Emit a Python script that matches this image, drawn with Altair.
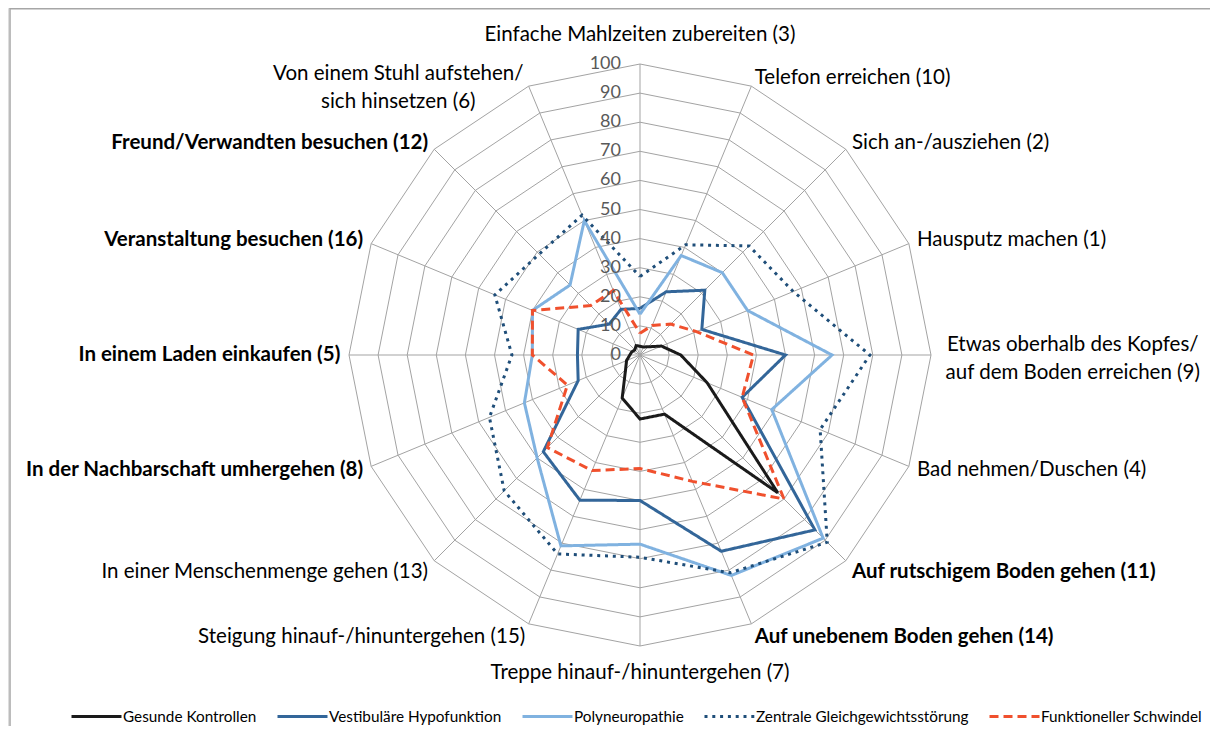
import math
import altair as alt
import pandas as pd

# ---------------- data ----------------
categories = [
    "Einfache Mahlzeiten zubereiten (3)",
    "Telefon erreichen (10)",
    "Sich an-/ausziehen (2)",
    "Hausputz machen (1)",
    "Etwas oberhalb des Kopfes/\nauf dem Boden erreichen (9)",
    "Bad nehmen/Duschen (4)",
    "Auf rutschigem Boden gehen (11)",
    "Auf unebenem Boden gehen (14)",
    "Treppe hinauf-/hinuntergehen (7)",
    "Steigung hinauf-/hinuntergehen (15)",
    "In einer Menschenmenge gehen (13)",
    "In der Nachbarschaft umhergehen (8)",
    "In einem Laden einkaufen (5)",
    "Veranstaltung besuchen (16)",
    "Freund/Verwandten besuchen (12)",
    "Von einem Stuhl aufstehen/\nsich hinsetzen (6)",
]
bold_categories = [
    "Auf rutschigem Boden gehen (11)",
    "Auf unebenem Boden gehen (14)",
    "In der Nachbarschaft umhergehen (8)",
    "In einem Laden einkaufen (5)",
    "Veranstaltung besuchen (16)",
    "Freund/Verwandten besuchen (12)",
]
series_names = [
    "Gesunde Kontrollen",
    "Vestibuläre Hypofunktion",
    "Polyneuropathie",
    "Zentrale Gleichgewichtsstörung",
    "Funktioneller Schwindel",
]
gesunde = [3, 3, 4, 8, 14, 25, 67, 22, 22, 16, 7, 5, 3.5, 3, 2.5, 3.5]
vestibulaer = [16, 23.5, 31.5, 23, 50, 38, 85, 73, 50, 54, 47, 23, 21.5, 23, 15, 17]
polyneuro = [14, 37, 40, 40, 66, 49, 89, 82, 65, 71, 50, 43, 37, 40, 34, 50]
zentral = [27, 41, 53, 57, 79, 67, 91, 81, 69.5, 74, 66, 56, 44, 54, 49, 52]
schwindel = [7.5, 11, 15, 21, 39, 38, 70, 47, 39, 43, 45, 27, 37, 40, 24, 24]
ring_levels = [10, 20, 30, 40, 50, 60, 70, 80, 90, 100]
tick_values = [0, 10, 20, 30, 40, 50, 60, 70, 80, 90, 100]

series_values = [gesunde, vestibulaer, polyneuro, zentral, schwindel]
series_colors = ["#1a1a1a", "#336699", "#80b2e0", "#1f4e79", "#f0502d"]
series_dashes = [[1, 0], [1, 0], [1, 0], [3, 4.8], [9, 5]]

N = len(categories)

rows = []
for k, (name, vals) in enumerate(zip(series_names, series_values)):
    for i in range(N + 1):
        rows.append({"series": name, "sorder": k, "idx": i, "value": vals[i % N]})
df_series = pd.DataFrame(rows)

df_rings = pd.DataFrame(
    [{"ring": r, "idx": i, "value": r} for r in ring_levels for i in range(N + 1)]
)
df_spokes = pd.DataFrame({"idx": list(range(N)), "value": [ring_levels[-1]] * N})
df_ticks = pd.DataFrame({"tick": tick_values, "label": [str(t) for t in tick_values]})
df_labels = pd.DataFrame({"idx": list(range(N)), "label": categories})

# ---------------- geometry / scales ----------------
W, H = 1202, 718
CX, CY = 632, 347          # centre inside the view
PX = 2.91                  # pixels per value unit
xs = alt.Scale(domain=[-CX / PX, (W - CX) / PX], nice=False, zero=False)
ys = alt.Scale(domain=[-(H - CY) / PX, CY / PX], nice=False, zero=False)

FONT = "Lato"
GRID = "#a3a3a3"
LABEL_SIZE = 20.5


def polar(chart):
    return (
        chart.transform_calculate(theta=f"2*PI*datum.idx/{N}")
        .transform_calculate(px="datum.value*sin(datum.theta)")
        .transform_calculate(py="datum.value*cos(datum.theta)")
        .transform_calculate(zero="0")
    )


X = alt.X("px:Q", scale=xs, axis=None)
Y = alt.Y("py:Q", scale=ys, axis=None)

rings = polar(alt.Chart(df_rings)).mark_line(color=GRID, strokeWidth=1).encode(
    x=X, y=Y, detail="ring:N", order="idx:Q"
)
spokes = polar(alt.Chart(df_spokes)).mark_rule(color=GRID, strokeWidth=1).encode(
    x=X, y=Y, x2="zero:Q", y2="zero:Q"
)

legend = alt.Legend(
    title=None,
    orient="none",
    legendX=62,
    legendY=682,
    direction="horizontal",
    symbolType="stroke",
    symbolSize=2500,
    symbolStrokeWidth=3,
    labelFont=FONT,
    labelFontSize=15.3,
    labelColor="#000000",
    labelOffset=0,
    labelLimit=400,
    columnPadding=14,
    padding=0,
)

lines = polar(alt.Chart(df_series)).mark_line(
    strokeWidth=3, strokeCap="butt", strokeJoin="miter"
).encode(
    x=X,
    y=Y,
    order="idx:Q",
    color=alt.Color(
        "series:N",
        scale=alt.Scale(domain=series_names, range=series_colors),
        legend=legend,
        sort=series_names,
    ),
    strokeDash=alt.StrokeDash(
        "series:N",
        scale=alt.Scale(domain=series_names, range=series_dashes),
        legend=legend,
        sort=series_names,
    ),
)

ticks = polar(alt.Chart(df_ticks).transform_calculate(idx="0", value="datum.tick")).mark_text(
    align="right", baseline="middle", dx=-19, font=FONT, fontSize=18, color="#595959"
).encode(
    x=X, y=Y, text="label:N"
)


def label_layer(idxs, align, weight, dx=0, dy=0):
    return (
        alt.Chart(df_labels)
        .transform_filter(alt.FieldOneOfPredicate(field="idx", oneOf=idxs))
        .transform_calculate(theta=f"2*PI*datum.idx/{N}")
        .transform_calculate(
            R="abs(sin(datum.theta)) < 0.1 ? (cos(datum.theta) > 0 ? 110 : 109.3) : 103"
        )
        .transform_calculate(lx="datum.R*sin(datum.theta)")
        .transform_calculate(
            ly="datum.R*cos(datum.theta) - ((cos(datum.theta) < -0.5 && abs(sin(datum.theta)) >= 0.1) ? 1.7 : 0)"
        )
        .mark_text(
            align=align, baseline="middle", font=FONT, fontSize=LABEL_SIZE, fontWeight=weight,
            dx=dx, dy=dy, lineBreak="\n", lineHeight=28, color="#000000",
        )
        .encode(
            x=alt.X("lx:Q", scale=xs, axis=None),
            y=alt.Y("ly:Q", scale=ys, axis=None),
            text="label:N",
        )
    )


groups = {}
for i, c in enumerate(categories):
    s = math.sin(2 * math.pi * i / N)
    weight = "bold" if c in bold_categories else "normal"
    if "\n" in c:
        continue
    if abs(s) < 0.1:
        key = ("center", weight)
    elif s > 0:
        key = ("left", weight)
    else:
        key = ("right", weight)
    groups.setdefault(key, []).append(i)

label_layers = [label_layer(v, k[0], k[1]) for k, v in groups.items()]
for i, c in enumerate(categories):
    if "\n" not in c:
        continue
    s = math.sin(2 * math.pi * i / N)
    if s > 0:
        label_layers.append(label_layer([i], "center", "normal", dx=133, dy=-10))
    else:
        label_layers.append(label_layer([i], "center", "normal", dx=-127, dy=-4))

frame_df = pd.DataFrame({"k": [0]})
frame_left = alt.Chart(frame_df).mark_rule(color="#a6a6a6", strokeWidth=1.5).encode(
    x=alt.value(2), y=alt.value(0), y2=alt.value(H)
)
frame_top = alt.Chart(frame_df).mark_rule(color="#a6a6a6", strokeWidth=1.5).encode(
    y=alt.value(0.75), x=alt.value(2), x2=alt.value(W)
)

chart = (
    alt.layer(rings, spokes, lines, ticks, *label_layers, frame_left, frame_top)
    .properties(width=W, height=H, autosize=alt.AutoSizeParams(type="none"), padding=0)
    .configure_view(stroke="transparent", strokeWidth=0)
    .configure(background="white")
)

chart.save("out.html", embed_options={"renderer": "svg", "actions": False})
